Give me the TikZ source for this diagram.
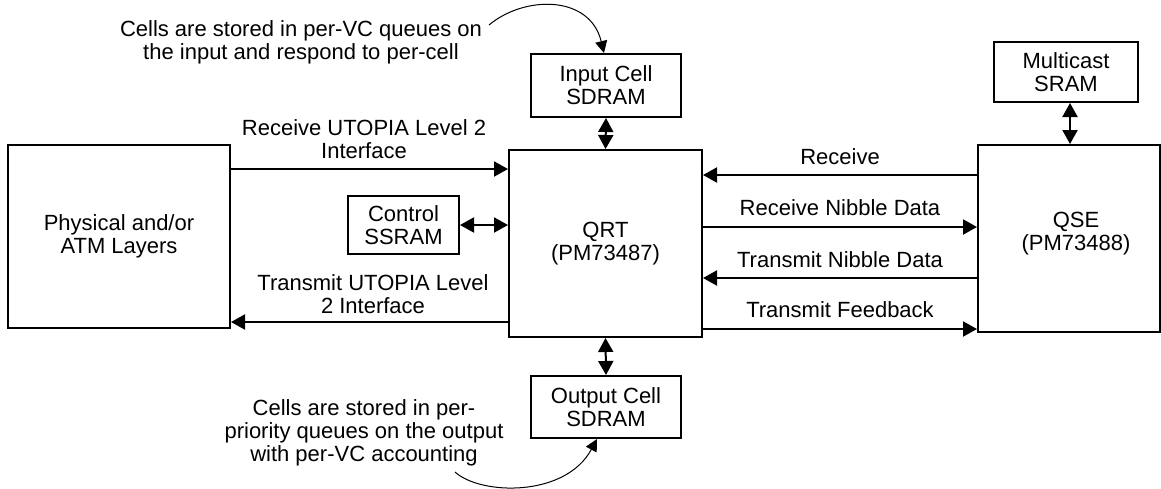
\documentclass[tikz,border=0pt]{standalone}
\usepackage{fontspec}
\setmainfont{Liberation Sans}
\usetikzlibrary{arrows.meta,calc}
\begin{document}
\begin{tikzpicture}[x=0.5pt,y=-0.5pt,
  txt/.style={font=\fontsize{11}{11.5}\selectfont},
  box/.style={draw,line width=1pt,inner sep=0pt,align=center,txt},
  lbl/.style={inner sep=0pt,align=center,txt},
  conn/.style={line width=1pt,-{Triangle[length=7pt,width=7.5pt]}},
  dconn/.style={line width=1pt,{Triangle[length=7pt,width=7.5pt]}-{Triangle[length=7pt,width=7.5pt]}},
  note/.style={line width=0.5pt,-{Triangle[length=6pt,width=6pt]}}]
\useasboundingbox (0,0) rectangle (1161,488);

% boxes
\node[box,minimum width=111pt,minimum height=91.5pt] (phys) at (119,236.5) {Physical and/or\\ATM Layers};
\node[box,minimum width=96.5pt,minimum height=93.5pt] (qrt) at (605.5,243.5) {QRT\\(PM73487)};
\node[box,minimum width=91pt,minimum height=93.5pt] (qse) at (1069,238.5) {};
\node[lbl] (qsetxt) at (1076,234) {QSE\\(PM73488)};
\node[box,minimum width=72pt,minimum height=30pt] (mc) at (1066,72) {Multicast\\SRAM};
\node[box,minimum width=75pt,minimum height=31.5pt] (inp) at (606,85.5) {Input Cell\\SDRAM};
\node[box,minimum width=75pt,minimum height=31pt] (outp) at (606,407) {Output Cell\\SDRAM};
\node[box,minimum width=55.5pt,minimum height=29pt] (ctrl) at (403.5,225) {Control\\SSRAM};

% labels
\node[lbl] (rxu) at (364,139.5) {Receive UTOPIA Level 2\\Interface};
\node[lbl] (txu) at (373,294) {Transmit UTOPIA Level\\2 Interface};
\node[lbl] (rcv) at (840,157) {Receive};
\node[lbl] (rnd) at (840,208) {Receive Nibble Data};
\node[lbl] (tnd) at (840,260) {Transmit Nibble Data};
\node[lbl] (tfb) at (840,310) {Transmit Feedback};
\node[lbl] (topnote) at (301,42.5) {Cells are stored in per-VC queues on\\the input and respond to per-cell};
\node[lbl] (botnote) at (364,433) {Cells are stored in per-\\priority queues on the output\\with per-VC accounting};

% connectors
\draw[conn] (phys.east |- 0,169) -- (qrt.west |- 0,169);
\draw[conn] (qrt.west |- 0,322) -- (phys.east |- 0,322);
\draw[dconn] (ctrl.east) -- (ctrl.east -| qrt.west);
\draw[dconn] (inp.south) -- (qrt.north);
\draw[dconn] (qrt.south) -- (outp.north);
\coordinate (mcs) at ($(mc.south)+(4,0)$);
\draw[dconn] (mcs) -- (mcs |- qse.north);
\draw[conn] (qse.west |- 0,175) -- (qrt.east |- 0,175);
\draw[conn] (qrt.east |- 0,227) -- (qse.west |- 0,227);
\draw[conn] (qse.west |- 0,278) -- (qrt.east |- 0,278);
\draw[conn] (qrt.east |- 0,329) -- (qse.west |- 0,329);

% note curves
\coordinate (c1) at (489,25);
\draw[note] (c1) .. controls (525,-5) and (590,-5) .. ($(inp.north)+(-2,0)$);
\coordinate (c2) at (455,472);
\draw[note] (c2) .. controls (480,495) and (565,498) .. ($(outp.south)+(-9,0)$);
\end{tikzpicture}
\end{document}
